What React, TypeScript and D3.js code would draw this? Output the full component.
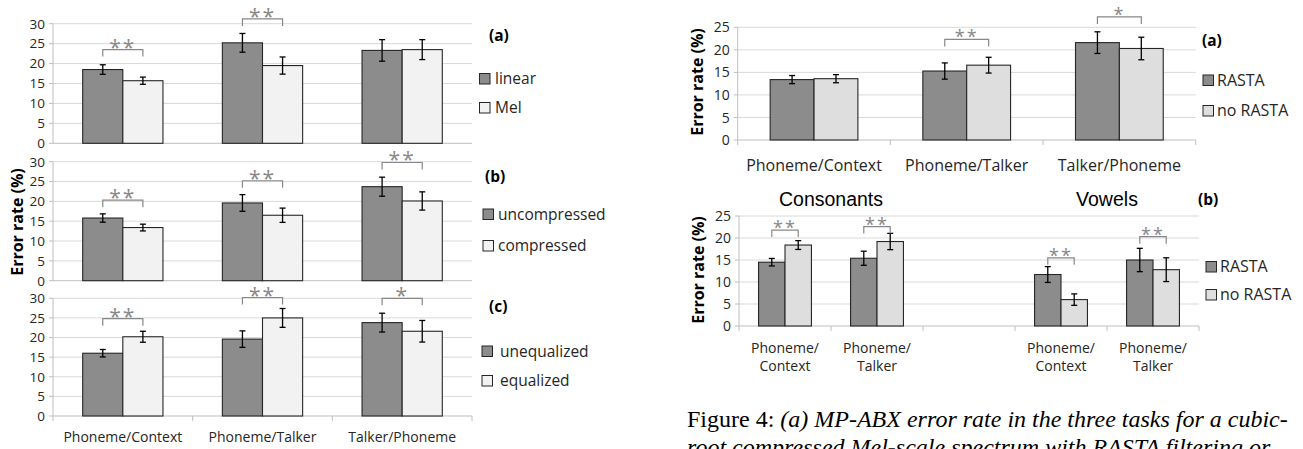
import React from 'react';
import * as d3 from 'd3';

// task labels
const tasks = ['Phoneme/Context', 'Phoneme/Talker', 'Talker/Phoneme'];

// left figure, panel (a)
const linearVals = [18.5, 25.2, 23.3];
const linearErr = [1.2, 2.35, 2.7];
const melVals = [15.7, 19.5, 23.5];
const melErr = [0.9, 2.15, 2.5];
const sigA = ['**', '**', ''];
const sigALevel = [23.5, 31.2, 0];

// left figure, panel (b)
const uncompVals = [15.8, 19.6, 23.7];
const uncompErr = [1.05, 2.1, 2.4];
const compVals = [13.4, 16.5, 20.1];
const compErr = [0.85, 1.8, 2.3];
const sigB = ['**', '**', '**'];
const sigBLevel = [20.3, 25.2, 29.8];

// left figure, panel (c)
const unequalVals = [16.0, 19.6, 23.8];
const unequalErr = [0.95, 2.1, 2.4];
const equalVals = [20.2, 25.0, 21.6];
const equalErr = [1.4, 2.4, 2.75];
const sigC = ['**', '**', '*'];
const sigCLevel = [24.8, 30.2, 30.0];

// right figure, panel (a)
const rastaA = [13.4, 15.3, 21.6];
const rastaAErr = [0.9, 1.8, 2.4];
const noRastaA = [13.6, 16.6, 20.3];
const noRastaAErr = [0.9, 1.75, 2.5];
const sigRA = ['', '**', '*'];
const sigRALevel = [0, 22.3, 27.3];

// right figure, panel (b): consonants (2), gap, vowels (2)
const tasksB = ['Phoneme/|Context', 'Phoneme/|Talker', '', 'Phoneme/|Context', 'Phoneme/|Talker'];
const rastaB = [14.5, 15.4, NaN, 11.7, 15.0];
const rastaBErr = [0.85, 1.6, NaN, 1.8, 2.65];
const noRastaB = [18.4, 19.2, NaN, 6.0, 12.8];
const noRastaBErr = [1.0, 1.85, NaN, 1.3, 2.7];
const sigRB = ['**', '**', '', '**', '**'];
const sigRBLevel = [21.8, 22.6, 0, 15.5, 20.3];

const FONT = '"Open Sans", sans-serif';
const DARK = '#8c8c8c';
const OUTLINE = '#262626';
const SIGCOL = '#888888';

interface PanelProps {
  left: number; right: number; top: number; bottom: number;
  yMax: number;
  cats: string[];
  a: number[]; aErr: number[];
  b: number[]; bErr: number[];
  sig: string[]; sigLevel: number[];
  lightFill: string;
  catTicks?: boolean;
  catY?: number;
  catSize?: number;
  tickSize?: number;
  starSize?: number;
  starDy?: number;
}

function BarPanel(p: PanelProps) {
  const y = d3.scaleLinear().domain([0, p.yMax]).range([p.bottom, p.top]);
  const ticks = d3.range(0, p.yMax + 1, 5);
  const x0 = d3.scaleBand<number>()
    .domain(p.cats.map((_, i) => i))
    .range([p.left, p.right]);
  const x1 = d3.scaleBand<string>()
    .domain(['a', 'b'])
    .range([0, x0.bandwidth()])
    .paddingOuter(0.74);
  const bw = x1.bandwidth();
  const starSize = p.starSize ?? 21;

  const bars = p.cats.flatMap((_, i) => [
    { i, k: 'a', v: p.a[i], e: p.aErr[i], fill: DARK },
    { i, k: 'b', v: p.b[i], e: p.bErr[i], fill: p.lightFill },
  ]).filter(d => !isNaN(d.v));

  return (
    <g>
      {ticks.filter(t => t > 0).map(t => (
        <line key={'g' + t} x1={p.left} x2={p.right} y1={y(t)} y2={y(t)} stroke="#d9d9d9" strokeWidth={1} />
      ))}
      <line x1={p.left} x2={p.right} y1={y(0)} y2={y(0)} stroke="#bfbfbf" />
      <line x1={p.left} x2={p.left} y1={y(0)} y2={y(p.yMax)} stroke="#bfbfbf" />
      {ticks.map(t => (
        <g key={'t' + t}>
          <line x1={p.left - 4} x2={p.left} y1={y(t)} y2={y(t)} stroke="#bfbfbf" />
          <text x={p.left - 8} y={y(t)} dy="0.36em" textAnchor="end" fontSize={p.tickSize ?? 13.5}
            fontFamily={FONT} fill="#262626">{t}</text>
        </g>
      ))}
      {p.catTicks && p.cats.map((_, i) => (
        <line key={'ct' + i} x1={x0(i)!} x2={x0(i)!} y1={y(0)} y2={y(0) + 5} stroke="#bfbfbf" />
      ))}
      {p.catTicks && (
        <line x1={p.right} x2={p.right} y1={y(0)} y2={y(0) + 5} stroke="#bfbfbf" />
      )}
      {bars.map(d => (
        <rect key={'b' + d.i + d.k} x={x0(d.i)! + x1(d.k)!} y={y(d.v)} width={bw}
          height={y(0) - y(d.v)} fill={d.fill} stroke={OUTLINE} strokeWidth={1.1} />
      ))}
      {bars.map(d => {
        const cx = x0(d.i)! + x1(d.k)! + bw / 2;
        return (
          <g key={'e' + d.i + d.k} stroke="#000" strokeWidth={1.3}>
            <line x1={cx} x2={cx} y1={y(d.v + d.e)} y2={y(d.v - d.e)} />
            <line x1={cx - 3} x2={cx + 3} y1={y(d.v + d.e)} y2={y(d.v + d.e)} />
            <line x1={cx - 3} x2={cx + 3} y1={y(d.v - d.e)} y2={y(d.v - d.e)} />
          </g>
        );
      })}
      {p.sig.map((s, i) => {
        if (!s) return null;
        const xa = x0(i)! + x1('a')! + bw / 2;
        const xb = x0(i)! + x1('b')! + bw / 2;
        const yy = y(p.sigLevel[i]);
        return (
          <g key={'s' + i}>
            <path d={`M${xa},${yy + 7}V${yy}H${xb}V${yy + 7}`} fill="none" stroke={SIGCOL} strokeWidth={1.2} />
            <text x={(xa + xb) / 2} y={yy + (p.starDy ?? 5)} textAnchor="middle" fontSize={starSize}
              fontFamily={FONT} fill={SIGCOL} letterSpacing={2}>{s}</text>
          </g>
        );
      })}
      {p.catY !== undefined && p.cats.map((c, i) => {
        const lines = c.split('|');
        return (
          <text key={'c' + i} x={x0(i)! + x0.bandwidth() / 2} y={p.catY} textAnchor="middle"
            fontSize={p.catSize ?? 14} fontFamily={FONT} fill="#262626">
            {lines.map((l, j) => (
              <tspan key={j} x={x0(i)! + x0.bandwidth() / 2} dy={j === 0 ? 0 : '1.25em'}>{l}</tspan>
            ))}
          </text>
        );
      })}
    </g>
  );
}

function Legend({ x, tx, items, fills, ys, size }: { x: number; tx: number; items: string[]; fills: string[]; ys: number[]; size: number }) {
  return (
    <g>
      {items.map((it, i) => (
        <g key={it}>
          <rect x={x} y={ys[i] - 5} width={10.5} height={10.5} fill={fills[i]} stroke={OUTLINE} strokeWidth={1} />
          <text x={tx} y={ys[i]} dy="0.36em" fontSize={size} fontFamily={FONT} fill="#262626">{it}</text>
        </g>
      ))}
    </g>
  );
}

const PanelLabel = ({ x, y, t }: { x: number; y: number; t: string }) => (
  <text x={x} y={y} dy="0.36em" fontSize={15.5} fontWeight="bold" fontFamily={FONT} fill="#000">{t}</text>
);

const YLabel = ({ x, y }: { x: number; y: number }) => (
  <text transform={`translate(${x},${y}) rotate(-90)`} textAnchor="middle" dy="0.36em" fontSize={16}
    fontWeight="bold" fontFamily={FONT} fill="#000">Error rate (%)</text>
);

export default function App() {
  const LEFT_LIGHT = '#f2f2f2';
  const RIGHT_LIGHT = '#dedede';
  return (
    <svg width={1303} height={449} style={{ position: 'absolute', left: 0, top: 0, background: '#fff' }}>
      {/* left figure */}
      <BarPanel left={53} right={472} top={23.7} bottom={143.3} yMax={30} cats={tasks}
        a={linearVals} aErr={linearErr} b={melVals} bErr={melErr} sig={sigA} sigLevel={sigALevel}
        lightFill={LEFT_LIGHT} />
      <BarPanel left={53} right={472} top={161.7} bottom={280.7} yMax={30} cats={tasks}
        a={uncompVals} aErr={uncompErr} b={compVals} bErr={compErr} sig={sigB} sigLevel={sigBLevel}
        lightFill={LEFT_LIGHT} />
      <BarPanel left={53} right={472} top={298.3} bottom={416} yMax={30} cats={tasks}
        a={unequalVals} aErr={unequalErr} b={equalVals} bErr={equalErr} sig={sigC} sigLevel={sigCLevel}
        lightFill={LEFT_LIGHT} catTicks catY={441.5} catSize={14} />
      <YLabel x={17} y={222} />
      <PanelLabel x={489} y={35} t="(a)" />
      <PanelLabel x={485} y={176} t="(b)" />
      <PanelLabel x={489} y={306} t="(c)" />
      <Legend x={479.5} tx={495} items={['linear', 'Mel']} fills={[DARK, LEFT_LIGHT]} ys={[78.5, 107.5]} size={15.5} />
      <Legend x={483} tx={498} items={['uncompressed', 'compressed']} fills={[DARK, LEFT_LIGHT]} ys={[214, 245.5]} size={15.5} />
      <Legend x={482} tx={500} items={['unequalized', 'equalized']} fills={[DARK, LEFT_LIGHT]} ys={[351, 380.5]} size={15.5} />

      {/* right figure */}
      <BarPanel left={737.7} right={1195.7} top={27.3} bottom={140} yMax={25} cats={tasks}
        a={rastaA} aErr={rastaAErr} b={noRastaA} bErr={noRastaAErr} sig={sigRA} sigLevel={sigRALevel}
        lightFill={RIGHT_LIGHT} catTicks catY={171} catSize={16} tickSize={14} starSize={18} starDy={4} />
      <BarPanel left={739} right={1199} top={216} bottom={326} yMax={25} cats={tasksB}
        a={rastaB} aErr={rastaBErr} b={noRastaB} bErr={noRastaBErr} sig={sigRB} sigLevel={sigRBLevel}
        lightFill={RIGHT_LIGHT} catTicks catY={353} catSize={14} tickSize={14} starSize={18} starDy={4} />
      <YLabel x={697} y={82} />
      <YLabel x={698} y={270} />
      <PanelLabel x={1202} y={40} t="(a)" />
      <PanelLabel x={1198} y={199} t="(b)" />
      <Legend x={1203} tx={1217} items={['RASTA', 'no RASTA']} fills={[DARK, RIGHT_LIGHT]} ys={[80, 110.5]} size={16} />
      <Legend x={1206} tx={1220} items={['RASTA', 'no RASTA']} fills={[DARK, RIGHT_LIGHT]} ys={[266.5, 294.5]} size={16} />
      <text x={831} y={206} textAnchor="middle" fontSize={19.5} fontFamily="'Liberation Sans', Arial, sans-serif" fill="#000">Consonants</text>
      <text x={1107} y={206} textAnchor="middle" fontSize={19.5} fontFamily="'Liberation Sans', Arial, sans-serif" fill="#000">Vowels</text>

      {/* caption */}
      <text x={687} y={427} fontSize={24} fontFamily="'Liberation Serif', 'Times New Roman', serif" fill="#000">
        Figure 4: <tspan fontStyle="italic">(a) MP-ABX error rate in the three tasks for a cubic-</tspan>
      </text>
      <text x={687} y={455} fontSize={24} fontStyle="italic" fontFamily="'Liberation Serif', 'Times New Roman', serif" fill="#000">
        root compressed Mel-scale spectrum with RASTA filtering or
      </text>
    </svg>
  );
}
